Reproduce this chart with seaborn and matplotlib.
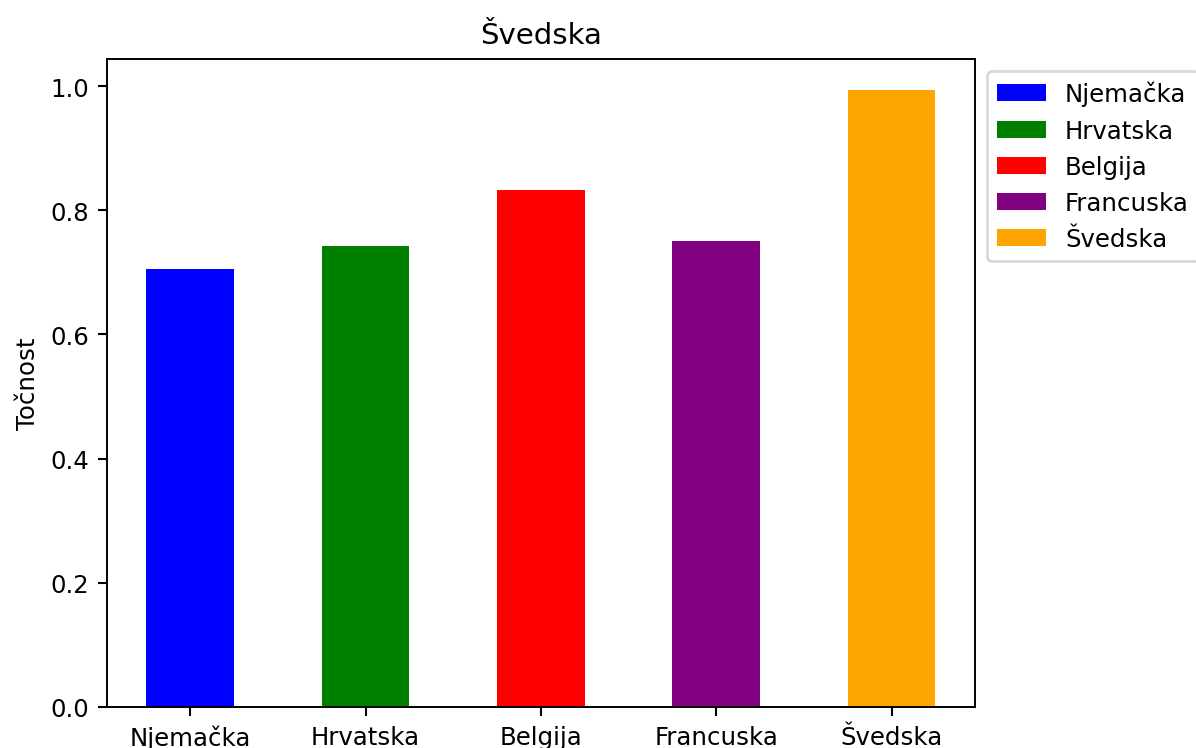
import matplotlib
matplotlib.use("Agg")
import matplotlib.pyplot as plt
import seaborn as sns
import pandas as pd

categories = ["Njemačka", "Hrvatska", "Belgija", "Francuska", "Švedska"]
values = [0.706, 0.743, 0.833, 0.751, 0.994]
colors = ["blue", "green", "red", "purple", "orange"]
title = "Švedska"
ylabel = "Točnost"

plt.rcParams["font.size"] = 9.4
plt.rcParams["axes.linewidth"] = 0.75
plt.rcParams["xtick.major.size"] = 3.3
plt.rcParams["ytick.major.size"] = 3.3

df = pd.DataFrame({"zemlja": categories, "tocnost": values})

fig, ax = plt.subplots(figsize=(6.4, 4.005), dpi=187)
fig.subplots_adjust(left=0.0894, right=0.8145, bottom=0.0547, top=0.92)

sns.barplot(data=df, x="zemlja", y="tocnost", hue="zemlja",
            palette=dict(zip(categories, colors)), width=0.5,
            saturation=1, dodge=False, legend=True, ax=ax)

ax.set_xlim(-0.475, len(categories) - 1 + 0.475)
ax.set_ylim(0, max(values) * 1.05)
ax.set_xlabel("")
ax.set_ylabel(ylabel)
ax.set_title(title)
ax.legend(bbox_to_anchor=(1, 1), loc="upper left")

fig.savefig("out.png", dpi=187)
